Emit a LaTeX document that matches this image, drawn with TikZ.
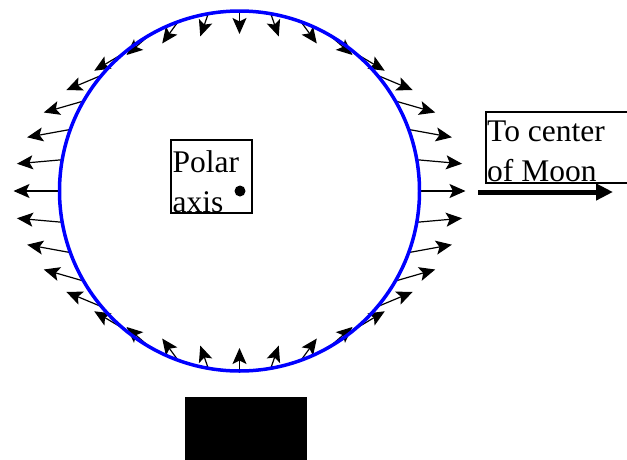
\documentclass[tikz,border=0pt]{standalone}
\usepackage{fontspec}
\setmainfont{Liberation Serif}
\usetikzlibrary{arrows.meta}
\begin{document}
\begin{tikzpicture}[x=1pt,y=-1pt,
  tide/.style={line width=1.2pt,-{Stealth[length=16pt,width=14pt,inset=3.5pt]}},
  earth/.style={blue,line width=3.5pt},
  lbl/.style={anchor=base west,inner sep=0pt,font=\fontsize{31.5}{40}\selectfont},
  frame/.style={draw,line width=1.5pt},
  moonarrow/.style={line width=5pt,-{Triangle[length=17pt,width=16pt]}}]
\useasboundingbox (0,0) rectangle (627,459);
\begin{scope}
\clip (0,0) rectangle (627,459);
\def\cx{239.5}\def\cy{191}\def\R{180}\def\s{23}
\coordinate (c) at (\cx,\cy);
\foreach \a in {0,10,...,350}{
  \coordinate (t\a) at ({\cx+\R*cos(\a)},{\cy-\R*sin(\a)});
  \coordinate (h\a) at ({\cx+\R*cos(\a)+2*\s*cos(\a)},{\cy-\R*sin(\a)+\s*sin(\a)});
  \draw[tide] (t\a) -- (h\a);
}
\node[earth,draw,circle,minimum size=360pt,inner sep=0pt] (earthc) at (c) {};
% polar axis box
\node[frame,minimum width=81pt,minimum height=73pt,inner sep=0pt] (pbox) at (211.5,176.5) {};
\node[lbl] (p1) at (172.5,172) {Polar};
\node[lbl] (p2) at (172.5,212) {axis};
\fill (240,191) circle (5.5pt);
% moon box
\draw[line width=1.5pt] (640,112) -- (486,112) -- (486,183) -- (640,183);
\node[lbl] (m1) at (487,141.7) {To center};
\node[lbl] (m2) at (487,181.7) {of Moon};
\coordinate (ma) at (478,192);
\coordinate (mb) at (613,192);
\draw[moonarrow] (ma) -- (mb);
% moon block
\fill (185,397) rectangle (307,470);
\end{scope}
\end{tikzpicture}
\end{document}
